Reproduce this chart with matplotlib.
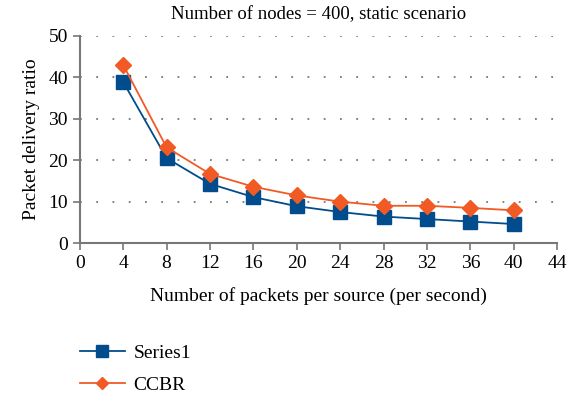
import matplotlib
matplotlib.use("Agg")
import matplotlib.pyplot as plt

x = [4, 8, 12, 16, 20, 24, 28, 32, 36, 40]
series1 = [38.9, 20.5, 14.3, 11.1, 8.9, 7.5, 6.4, 5.8, 5.2, 4.6]
ccbr = [43.0, 23.1, 16.7, 13.6, 11.5, 10.0, 9.0, 9.0, 8.5, 7.9]
xticks = list(range(0, 45, 4))
yticks = [0, 10, 20, 30, 40, 50]

plt.rcParams['font.family'] = ['Liberation Serif', 'DejaVu Serif']

fig = plt.figure(figsize=(5.78, 3.94), dpi=100)
ax = fig.add_axes([0.138, 0.383, 0.826, 0.526])

blue = '#004C8C'
orange = '#F15A24'
ax.plot(x, series1, color=blue, lw=1.3, marker='s', ms=10.5, label='Series1', zorder=3)
ax.plot(x, ccbr, color=orange, lw=1.3, marker='D', ms=8, label='CCBR', zorder=4)

ax.set_xlim(0, 44)
ax.set_ylim(0, 50)
ax.set_xticks(xticks)
ax.set_yticks(yticks)
ax.tick_params(labelsize=14, color='#777777', length=5, width=1.2)
for s in ['top', 'right']:
    ax.spines[s].set_visible(False)
for s in ['left', 'bottom']:
    ax.spines[s].set_color('#777777')
    ax.spines[s].set_linewidth(1.5)
ax.yaxis.grid(True, linestyle=(0, (1, 8)), color='#777777', lw=1.3)
ax.set_axisbelow(True)

fig.text(0.551, 0.962, 'Number of nodes = 400, static scenario', fontsize=13.5,
         ha='center', va='center')
ax.set_xlabel('Number of packets per source (per second)', fontsize=14, labelpad=11)
ax.set_ylabel('Packet delivery ratio', fontsize=14, labelpad=6)

fig.legend(loc='lower left', bbox_to_anchor=(0.108, -0.045), frameon=False,
           fontsize=14, handlelength=2.3, labelspacing=0.75, handletextpad=0.45,
           markerscale=0.8)

fig.savefig('out.png', dpi=100)
